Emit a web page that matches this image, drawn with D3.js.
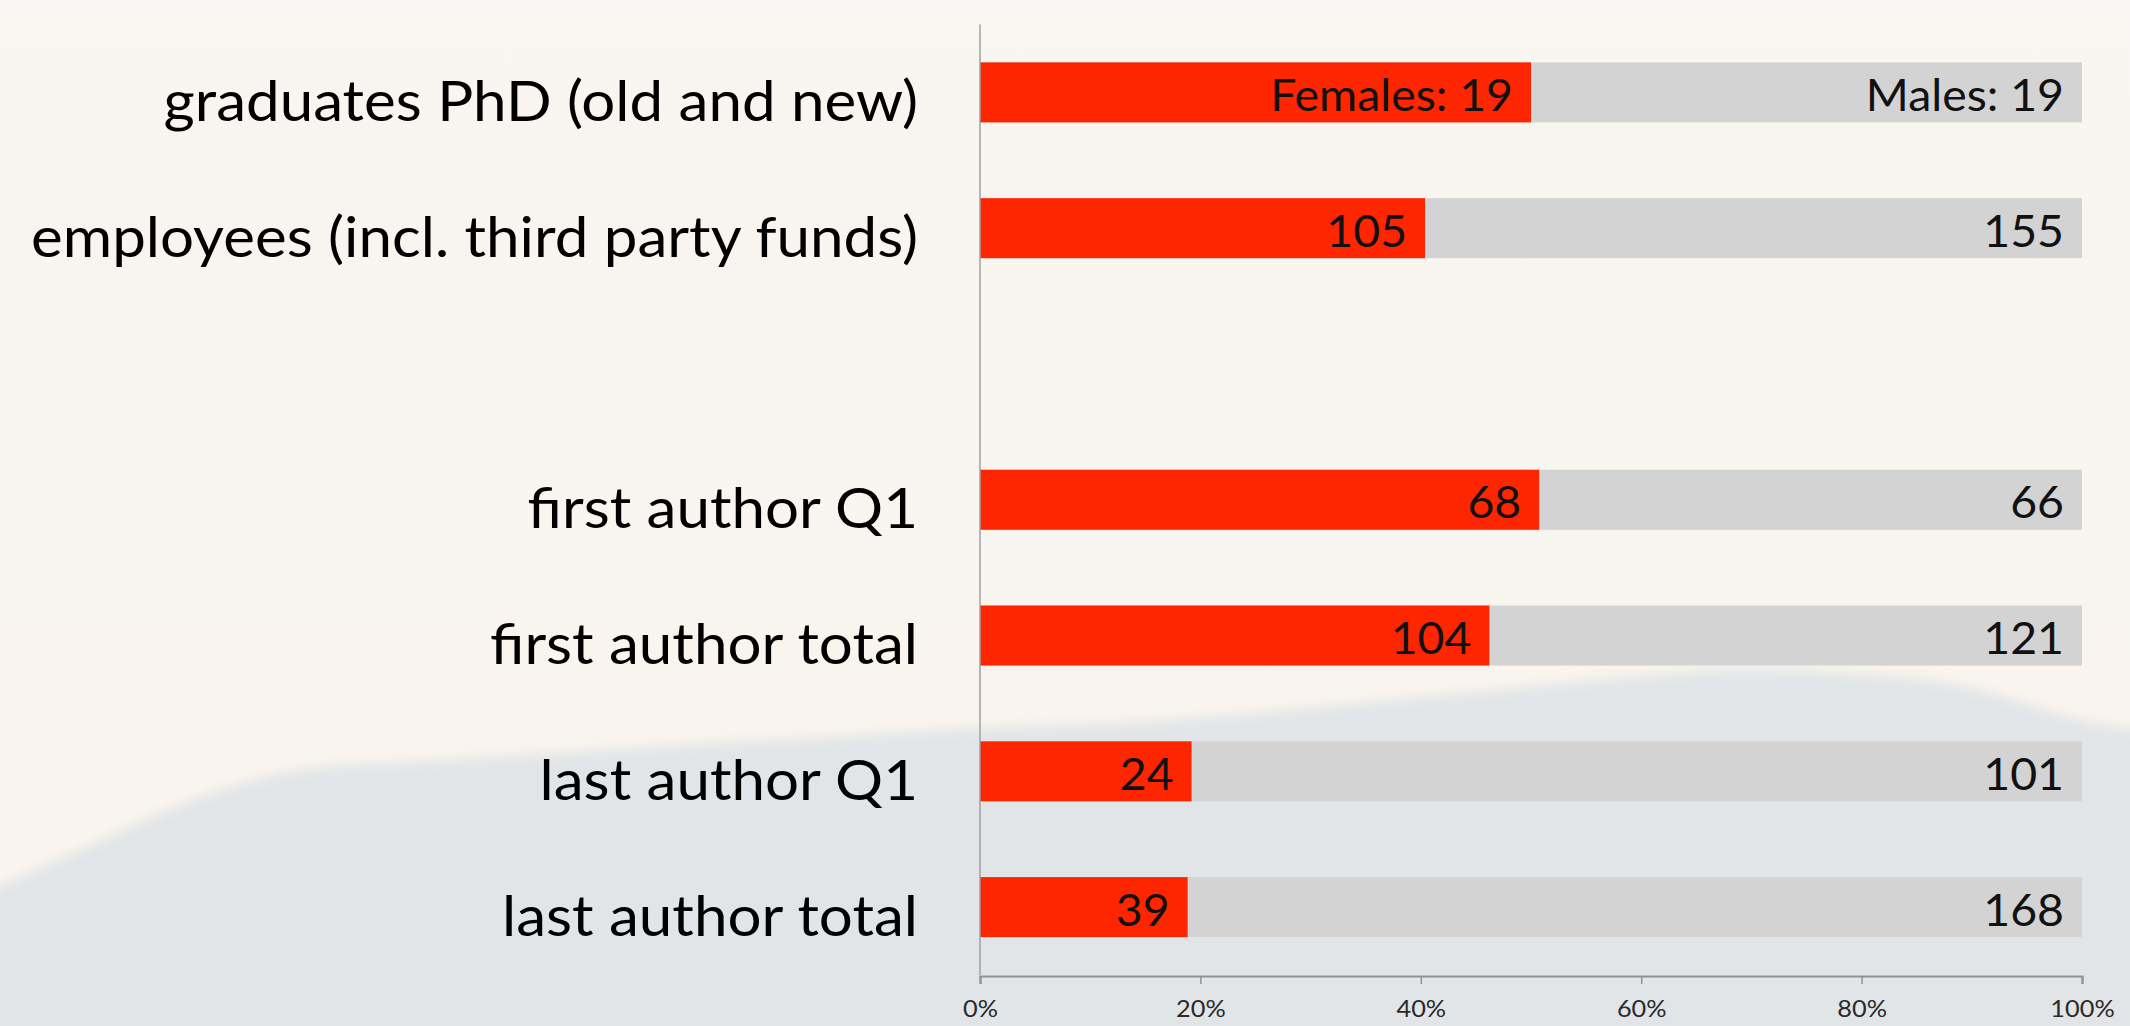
<!DOCTYPE html>
<html>
<head>
<meta charset="utf-8">
<script src="https://cdn.jsdelivr.net/npm/d3@7"></script>
<style>
  html, body { margin: 0; padding: 0; background: #f8f5f0; }
  svg { display: block; }
  text { font-family: Lato, "Open Sans", sans-serif; }
</style>
</head>
<body>
<svg id="chart" width="2130" height="1026"></svg>
<script>
// rows of the chart, top to bottom ("" is the empty gap row)
const categories = [
  "graduates PhD (old and new)",
  "employees (incl. third party funds)",
  "",
  "first author Q1",
  "first author total",
  "last author Q1",
  "last author total"
]
const females = [19, 105, null, 68, 104, 24, 39]
const males = [19, 155, null, 66, 121, 101, 168]
const tickValues = [0, 0.2, 0.4, 0.6, 0.8, 1]

const svg = d3.select("#chart"),
  width = +svg.attr("width"),
  height = +svg.attr("height")

const plotLeft = 980, plotRight = 2082, plotTop = 24.5, plotBottom = 975

// soft background: warm sky + pale hill silhouette
const defs = svg.append("defs")
defs.append("filter").attr("id", "blur")
  .attr("x", "-5%").attr("y", "-5%").attr("width", "110%").attr("height", "110%")
  .append("feGaussianBlur").attr("stdDeviation", 6)
const sky = defs.append("linearGradient").attr("id", "sky")
  .attr("x1", 0).attr("y1", 0).attr("x2", 0).attr("y2", 1)
sky.append("stop").attr("offset", "0%").attr("stop-color", "#f8f6f2")
sky.append("stop").attr("offset", "70%").attr("stop-color", "#f9f4ee")
svg.append("rect").attr("width", width).attr("height", height).attr("fill", "url(#sky)")

const ridge = [[-20, 895], [0, 886], [80, 850], [163, 812], [240, 784], [312, 768], [408, 762],
  [540, 754], [680, 745], [830, 737], [978, 728], [1100, 724], [1223, 716], [1360, 703],
  [1495, 690], [1620, 678], [1739, 670], [1860, 674], [1970, 688], [2040, 708], [2079, 720], [2150, 730]]
svg.append("path")
  .attr("d", d3.line().curve(d3.curveMonotoneX)(ridge) + "L2150,1060L-20,1060Z")
  .attr("fill", "#e2e5e7")
  .attr("filter", "url(#blur)")

const rows = categories.map((c, i) => ({
  key: c || "gap" + i, label: c, f: females[i], m: males[i]
}))

const x = d3.scaleLinear().domain([0, 1]).range([plotLeft, plotRight])
const y = d3.scaleBand()
  .domain(rows.map(d => d.key))
  .range([plotTop, plotBottom])
  .paddingInner(0.558)
  .paddingOuter(0.279)

const data = rows.filter(d => d.f != null)
const g = svg.append("g")

// male share (full-width grey) then female share (red) on top
g.selectAll(".male").data(data).enter().append("rect")
  .attr("class", "male")
  .attr("x", x(0))
  .attr("y", d => y(d.key))
  .attr("width", x(1) - x(0))
  .attr("height", y.bandwidth())
  .attr("fill", "#d3d3d3")

g.selectAll(".female").data(data).enter().append("rect")
  .attr("class", "female")
  .attr("x", x(0))
  .attr("y", d => y(d.key))
  .attr("width", d => x(d.f / (d.f + d.m)) - x(0))
  .attr("height", y.bandwidth())
  .attr("fill", "#fe2600")

// squeeze Lato to a Calibri-ish width
function condense(sel, k) {
  sel.each(function() {
    const w = this.getComputedTextLength()
    if (w > 0) d3.select(this).attr("textLength", w * k).attr("lengthAdjust", "spacingAndGlyphs")
  })
}

const valueLabels = g.selectAll(".fval").data(data).enter().append("text")
  .attr("class", "fval")
  .attr("x", d => x(d.f / (d.f + d.m)) - 18)
  .attr("y", d => y(d.key) + y.bandwidth() / 2)
  .attr("dy", "0.42em")
  .attr("text-anchor", "end")
  .attr("font-size", 44)
  .attr("fill", "#111")
  .text((d, i) => i === 0 ? "Females: " + d.f : d.f)

const maleLabels = g.selectAll(".mval").data(data).enter().append("text")
  .attr("class", "mval")
  .attr("x", x(1) - 18)
  .attr("y", d => y(d.key) + y.bandwidth() / 2)
  .attr("dy", "0.42em")
  .attr("text-anchor", "end")
  .attr("font-size", 44)
  .attr("fill", "#111")
  .text((d, i) => i === 0 ? "Males: " + d.m : d.m)

const catLabels = svg.append("g").selectAll("text").data(data).enter().append("text")
  .attr("x", plotLeft - 62)
  .attr("y", d => y(d.key) + y.bandwidth() / 2)
  .attr("dy", "0.5em")
  .attr("text-anchor", "end")
  .attr("font-size", 57)
  .attr("fill", "#000")
  .text(d => d.label)

// width of the longest label in the reference is ~887px
let longest = 0
catLabels.each(function() { longest = Math.max(longest, this.getComputedTextLength()) })
const k = 887 / longest
condense(catLabels, k)
condense(valueLabels, k)
condense(maleLabels, k)

// axes
svg.append("line")
  .attr("x1", plotLeft).attr("x2", plotLeft)
  .attr("y1", plotTop).attr("y2", plotBottom)
  .attr("stroke", "#a0a0a0").attr("stroke-width", 1.5)

const xAxis = svg.append("g")
  .attr("transform", "translate(0," + (plotBottom + 1) + ")")
  .call(d3.axisBottom(x).tickValues(tickValues).tickFormat(d3.format(".0%")).tickSizeOuter(0).tickSize(8).tickPadding(16))
xAxis.select(".domain").attr("stroke", "#929292").attr("stroke-width", 2.2)
xAxis.selectAll(".tick line").attr("stroke", "#929292").attr("stroke-width", 1.5)
xAxis.selectAll(".tick text")
  .attr("font-size", 24)
  .attr("font-family", "Lato, sans-serif")
  .attr("fill", "#2a2a2a")
condense(xAxis.selectAll(".tick text"), k)
</script>
</body>
</html>
